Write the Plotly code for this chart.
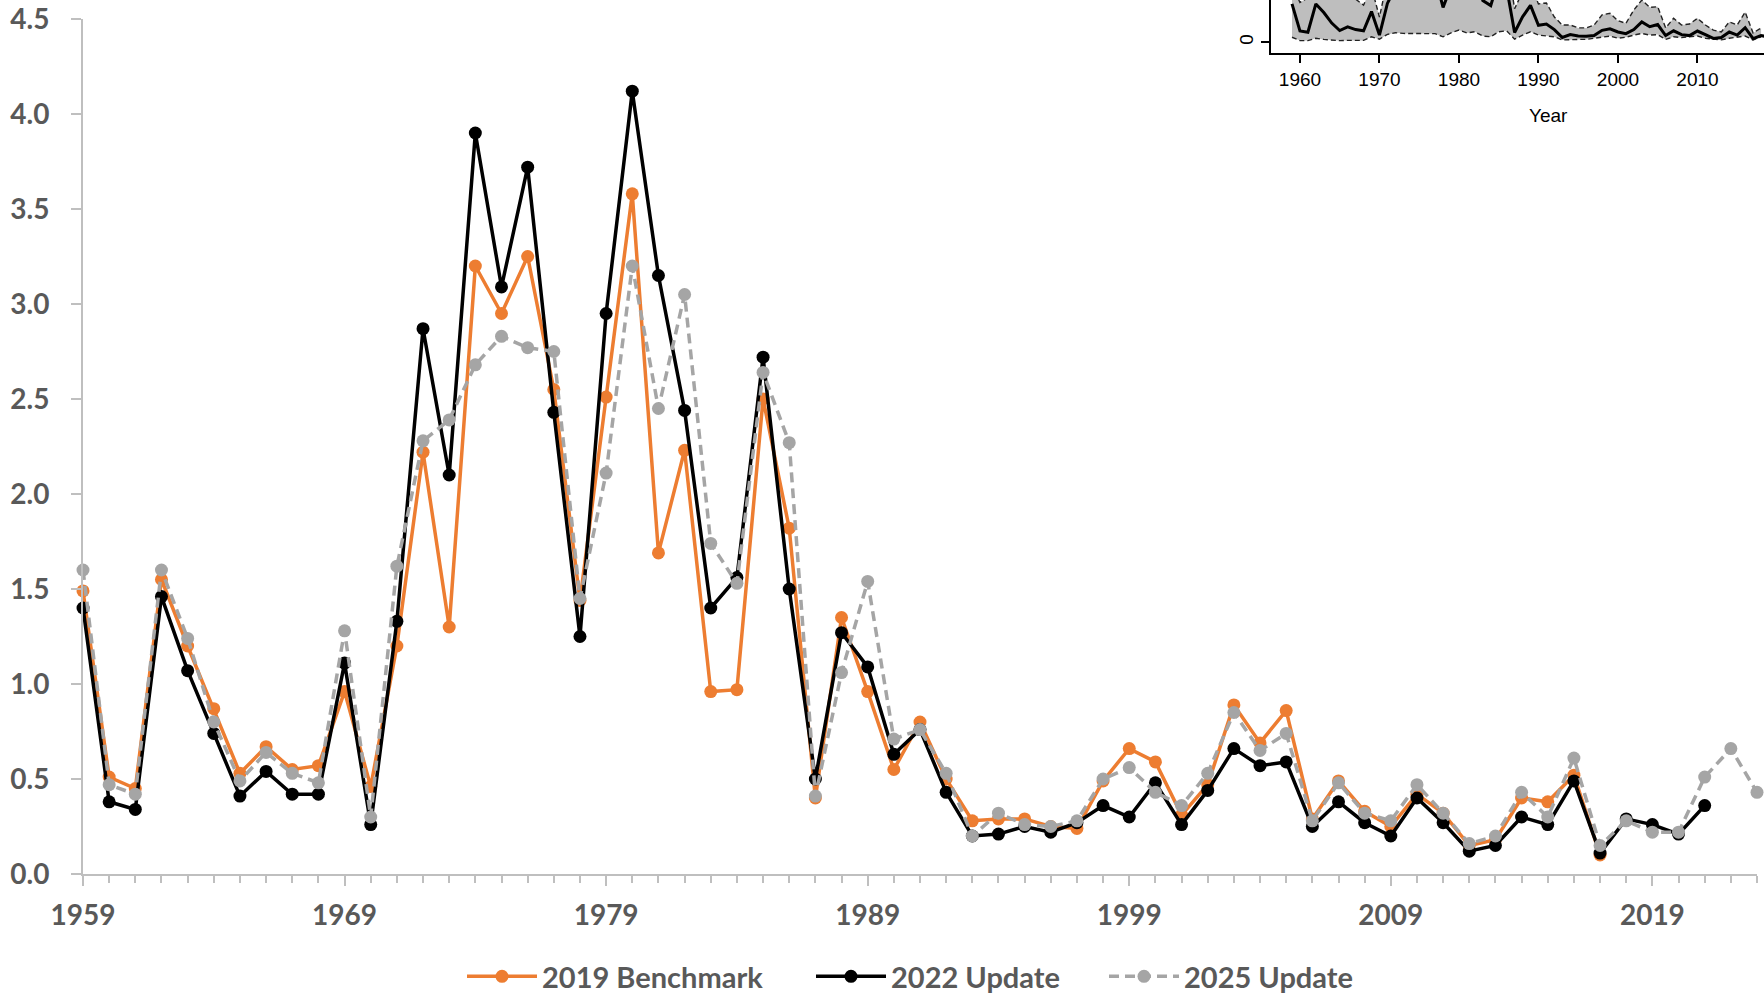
import plotly.graph_objects as go

# annual values, 1959 onwards
years = list(range(1959, 2024))

bench_2019 = [1.49, 0.51, 0.45, 1.55, 1.20, 0.87, 0.53, 0.67, 0.55, 0.57,
              0.96, 0.46, 1.20, 2.22, 1.30, 3.20, 2.95, 3.25, 2.55, 1.44,
              2.51, 3.58, 1.69, 2.23, 0.96, 0.97, 2.50, 1.82, 0.40, 1.35,
              0.96, 0.55, 0.80, 0.50, 0.28, 0.29, 0.29, 0.25, 0.24, 0.49,
              0.66, 0.59, 0.31, 0.47, 0.89, 0.69, 0.86, 0.29, 0.49, 0.33,
              0.25, 0.42, 0.32, 0.15, 0.18, 0.40, 0.38, 0.52, 0.10]

update_2022 = [1.40, 0.38, 0.34, 1.46, 1.07, 0.74, 0.41, 0.54, 0.42, 0.42,
               1.11, 0.26, 1.33, 2.87, 2.10, 3.90, 3.09, 3.72, 2.43, 1.25,
               2.95, 4.12, 3.15, 2.44, 1.40, 1.56, 2.72, 1.50, 0.50, 1.27,
               1.09, 0.63, 0.76, 0.43, 0.20, 0.21, 0.25, 0.22, 0.27, 0.36,
               0.30, 0.48, 0.26, 0.44, 0.66, 0.57, 0.59, 0.25, 0.38, 0.27,
               0.20, 0.40, 0.27, 0.12, 0.15, 0.30, 0.26, 0.49, 0.11, 0.29,
               0.26, 0.21, 0.36]

update_2025 = [1.60, 0.47, 0.42, 1.60, 1.24, 0.80, 0.49, 0.64, 0.53, 0.48,
               1.28, 0.30, 1.62, 2.28, 2.39, 2.68, 2.83, 2.77, 2.75, 1.45,
               2.11, 3.20, 2.45, 3.05, 1.74, 1.53, 2.64, 2.27, 0.41, 1.06,
               1.54, 0.71, 0.76, 0.53, 0.20, 0.32, 0.26, 0.25, 0.28, 0.50,
               0.56, 0.43, 0.36, 0.53, 0.85, 0.65, 0.74, 0.28, 0.48, 0.32,
               0.28, 0.47, 0.32, 0.16, 0.20, 0.43, 0.30, 0.61, 0.15, 0.28,
               0.22, 0.22, 0.51, 0.66, 0.43]

# inset (cropped R plot): interval around the 2025 estimate, 1959-2018
inset_low = [0.21, 0.07, 0.07, 0.17, 0.12, 0.08, 0.07, 0.08, 0.07, 0.08,
             0.23, 0.13, 0.33, 0.40, 0.37, 0.37, 0.37, 0.37, 0.36, 0.23,
             0.39, 0.51, 0.39, 0.44, 0.26, 0.23, 0.44, 0.48, 0.13, 0.30,
             0.44, 0.30, 0.26, 0.23, 0.10, 0.12, 0.12, 0.12, 0.17, 0.23,
             0.26, 0.17, 0.21, 0.30, 0.37, 0.30, 0.32, 0.12, 0.23, 0.20,
             0.23, 0.26, 0.17, 0.12, 0.10, 0.17, 0.20, 0.26, 0.10, 0.23]

inset_high = [2.40, 1.66, 1.85, 2.60, 2.20, 1.90, 1.80, 1.85, 1.80, 1.55,
              2.30, 1.05, 2.60, 3.40, 3.60, 3.80, 3.90, 3.90, 3.80, 2.60,
              3.40, 4.60, 3.80, 4.20, 2.90, 2.70, 3.90, 3.50, 1.40, 2.10,
              2.40, 1.60, 1.64, 1.05, 0.72, 0.72, 0.60, 0.60, 0.72, 1.14,
              1.21, 0.90, 0.79, 1.35, 1.76, 1.46, 1.48, 0.60, 1.00, 0.72,
              0.76, 1.00, 0.72, 0.51, 0.43, 0.85, 0.72, 1.26, 0.39, 0.60]

W, H = 1764, 994
ORANGE = '#ED7D31'
GREY = '#A5A5A5'
AXIS = '#BFBFBF'
TEXT = '#595959'


def fx(x):
    return x / W


def fy(y):
    return 1 - y / H


fig = go.Figure()

fig.add_trace(go.Scatter(x=years[:len(bench_2019)], y=bench_2019, name='2019 Benchmark',
                         mode='lines+markers', line=dict(color=ORANGE, width=3.5),
                         marker=dict(size=13, color=ORANGE), cliponaxis=False, legend='legend'))
fig.add_trace(go.Scatter(x=years[:len(update_2022)], y=update_2022, name='2022 Update',
                         mode='lines+markers', line=dict(color='black', width=3.5),
                         marker=dict(size=13, color='black'), cliponaxis=False, legend='legend2'))
fig.add_trace(go.Scatter(x=years, y=update_2025, name='2025 Update',
                         mode='lines+markers', line=dict(color=GREY, width=3.5, dash='10px,6px'),
                         marker=dict(size=13, color=GREY), cliponaxis=False, legend='legend3'))

# inset
inset_years = years[:len(inset_low)]
fig.add_trace(go.Scatter(x=inset_years, y=inset_low, xaxis='x2', yaxis='y2', mode='lines',
                         line=dict(color='#222222', width=1.4, dash='5px,3px'), showlegend=False))
fig.add_trace(go.Scatter(x=inset_years, y=inset_high, xaxis='x2', yaxis='y2', mode='lines',
                         fill='tonexty', fillcolor='#BEBEBE',
                         line=dict(color='#222222', width=1.4, dash='5px,3px'), showlegend=False))
fig.add_trace(go.Scatter(x=years, y=update_2025, xaxis='x2', yaxis='y2', mode='lines',
                         line=dict(color='black', width=3), showlegend=False))

tick_font = dict(family='Lato', size=28, color=TEXT, weight='bold')


def legend_at(x):
    return dict(orientation='h', x=fx(x), xanchor='left', y=fy(951), yanchor='top',
                itemwidth=70, bgcolor='rgba(0,0,0,0)',
                font=dict(family='Lato', size=29, color=TEXT, weight='bold'))


fig.update_layout(
    width=W, height=H, autosize=False,
    # legends sit at the very bottom; don't let them push the margins
    margin=dict(l=0, r=0, t=0, b=0, autoexpand=False),
    plot_bgcolor='white', paper_bgcolor='white',
    xaxis=dict(domain=[fx(83), fx(1757)], range=[1959, 2023], tick0=1959, dtick=10,
               ticks='outside', ticklen=10, tickwidth=2, tickcolor=AXIS, automargin=False,
               showline=True, linecolor=AXIS, linewidth=2, showgrid=False, zeroline=False,
               tickfont=tick_font, ticklabelstandoff=5,
               minor=dict(tick0=1959, dtick=1, ticks='outside', ticklen=7, tickwidth=2,
                          tickcolor=AXIS, showgrid=False)),
    yaxis=dict(domain=[fy(874), fy(19)], range=[0, 4.5], dtick=0.5, tickformat='.1f',
               ticks='outside', ticklen=10, tickwidth=2, tickcolor=AXIS, automargin=False,
               showline=True, linecolor=AXIS, linewidth=2, showgrid=False, zeroline=False,
               tickfont=tick_font, ticklabelstandoff=16),
    xaxis2=dict(domain=[fx(1271), 1], range=[1959 - 21 / 7.95, 1959 + 472 / 7.95],
                anchor='y2', tickvals=[1960, 1970, 1980, 1990, 2000, 2010, 2020],
                ticks='outside', ticklen=8, tickwidth=2, tickcolor='black', automargin=False,
                showline=True, linecolor='black', linewidth=2, showgrid=False, zeroline=False,
                tickfont=dict(family='Liberation Sans', size=19, color='black')),
    yaxis2=dict(domain=[fy(53), 1], range=[(42.3 - 53) / 24, 42.3 / 24], anchor='x2',
                tickvals=[0], tickangle=-90, ticks='outside', ticklen=8, tickwidth=2,
                tickcolor='black', showline=True, linecolor='black', linewidth=2,
                showgrid=False, zeroline=False, automargin=False,
                tickfont=dict(family='Liberation Sans', size=19, color='black')),
    legend=legend_at(462),
    legend2=legend_at(811),
    legend3=legend_at(1104),
    annotations=[dict(text='Year', x=fx(1548), y=fy(116), xref='paper', yref='paper',
                      showarrow=False, xanchor='center', yanchor='middle',
                      font=dict(family='Liberation Sans', size=19, color='black'))],
)

# page body has a default margin; drop it so the chart sits at the window corner
fig.write_html("out.html", config={'displayModeBar': False, 'responsive': False},
               post_script="document.body.style.margin = '0';")
